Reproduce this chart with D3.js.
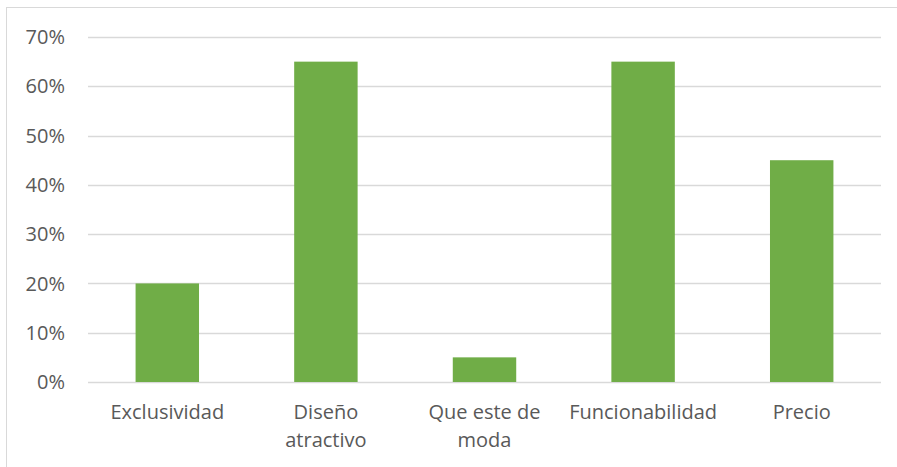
<!DOCTYPE html>
<html>
<head>
<meta charset="utf-8">
<script src="https://cdn.jsdelivr.net/npm/d3@7"></script>
<style>
  html, body { margin: 0; padding: 0; background: #ffffff; }
  svg { display: block; }
  text { font-family: "Open Sans", "Noto Sans", sans-serif; fill: #595959; }
</style>
</head>
<body>
<div id="chart"></div>
<script>
const categories = ['Exclusividad', 'Diseño atractivo', 'Que este de moda', 'Funcionabilidad', 'Precio'];
const tickLabels = [['Exclusividad'], ['Diseño', 'atractivo'], ['Que este de', 'moda'], ['Funcionabilidad'], ['Precio']];
const values = [0.20, 0.65, 0.05, 0.65, 0.45];
const yTicks = [0, 0.1, 0.2, 0.3, 0.4, 0.5, 0.6, 0.7];

const width = 897;
const height = 467;
const margin = { top: 37, right: 16, bottom: 85, left: 88 };

const svg = d3.select('#chart').append('svg')
  .attr('width', width)
  .attr('height', height);

// chart area frame
svg.append('rect')
  .attr('x', 6.5)
  .attr('y', 7.5)
  .attr('width', width + 10)
  .attr('height', height + 10)
  .attr('fill', 'none')
  .attr('stroke', '#d9d9d9')
  .attr('stroke-width', 1);

const x = d3.scaleBand()
  .domain(categories)
  .range([margin.left, width - margin.right])
  .paddingInner(0.6)
  .paddingOuter(0.3);

const y = d3.scaleLinear()
  .domain([0, 0.7])
  .range([height - margin.bottom, margin.top]);

// gridlines
svg.append('g')
  .selectAll('line')
  .data(yTicks)
  .join('line')
    .attr('x1', margin.left)
    .attr('x2', width - margin.right)
    .attr('y1', d => Math.round(y(d)) + 0.5)
    .attr('y2', d => Math.round(y(d)) + 0.5)
    .attr('stroke', '#d9d9d9')
    .attr('stroke-width', 1.3);

// y labels
svg.append('g')
  .selectAll('text')
  .data(yTicks)
  .join('text')
    .attr('x', 65)
    .attr('y', d => y(d))
    .attr('dy', '0.36em')
    .attr('text-anchor', 'end')
    .style('font-size', '20px')
    .text(d => d3.format('.0%')(d));

// bars
svg.append('g')
  .selectAll('rect')
  .data(values)
  .join('rect')
    .attr('x', (d, i) => x(categories[i]))
    .attr('y', d => y(d))
    .attr('width', x.bandwidth())
    .attr('height', d => y(0) - y(d))
    .attr('fill', '#70ad47');

// x labels
const xl = svg.append('g')
  .selectAll('text')
  .data(categories)
  .join('text')
    .attr('x', d => x(d) + x.bandwidth() / 2)
    .attr('y', 419)
    .attr('text-anchor', 'middle')
    .style('font-size', '20px');

xl.selectAll('tspan')
  .data((d, i) => tickLabels[i])
  .join('tspan')
    .attr('x', function() { return d3.select(this.parentNode).attr('x'); })
    .attr('dy', (d, i) => i === 0 ? 0 : 28)
    .text(d => d);
</script>
</body>
</html>
